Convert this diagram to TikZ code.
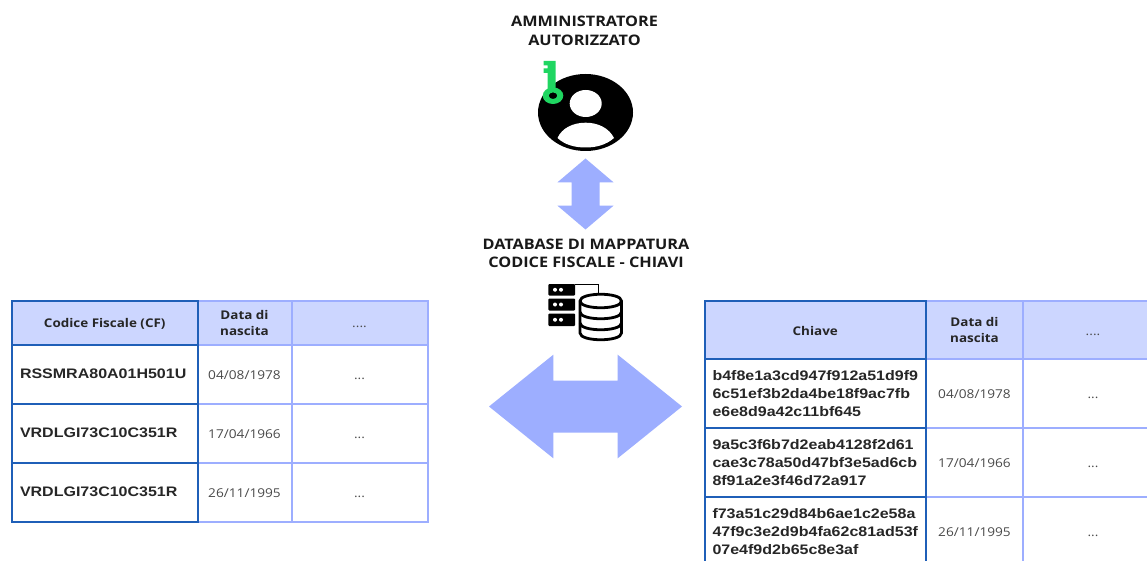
\documentclass[tikz,border=0pt]{standalone}
\usepackage{fontspec}
\setmainfont[FakeStretch=1.12]{Open Sans}
\newfontfamily\cellfont[FakeStretch=1.16]{Liberation Sans}
\usetikzlibrary{positioning, shapes.arrows, shapes.geometric}
\definecolor{headfill}{HTML}{CCD6FF}
\definecolor{lightline}{HTML}{9DAEFF}
\definecolor{darkline}{HTML}{1F5FB8}
\definecolor{keygreen}{HTML}{1FD661}
\definecolor{datetext}{HTML}{4A4A4A}
\begin{document}
\begin{tikzpicture}[
		x=1pt, y=-1pt,
		node distance=0pt,
		cell/.style={
				draw=lightline,
				line width=2pt,
				inner sep=0pt,
				outer sep=0pt,
				align=center,
				text=datetext,
				font=\fontsize{12.2}{15}\selectfont,
			},
		datecell/.style={
				cell,
				text height=12pt,
				text depth=2pt,
			},
		headcell/.style={
				cell,
				fill=headfill,
				text=black!85,
				font=\fontsize{12}{15.5}\selectfont\bfseries,
			},
		dotscell/.style={
				datecell,
				fill=headfill,
			},
		keycell/.style={
				cell,
				draw=darkline,
				text=black!85,
				align=left,
				inner xsep=8pt,
				text width=#1,
				font=\cellfont\fontsize{13.8}{18}\selectfont\bfseries,
			},
		title/.style={
				align=center,
				inner sep=0pt,
				text=black!90,
				font=\fontsize{14.5}{18.5}\selectfont\bfseries,
			},
		blockarrow/.style={
				double arrow,
				fill=lightline,
				double arrow head indent=0pt,
				outer sep=0pt,
			},
	]
	\clip (0,0) rectangle (1147,561);

	% Titoli
	\node[title] (admintitle) at (584.5,31) {AMMINISTRATORE\\AUTORIZZATO};
	\node[title] (dbtitle) at (586,253.5) {DATABASE DI MAPPATURA\\CODICE FISCALE - CHIAVI};

	% Utente con chiave
	\node[fill=black, ellipse, minimum width=95pt, minimum height=77pt, inner sep=0pt] (admin) at (585.5,112.5) {};
	\fill[white] (585.7,103.5) ellipse [x radius=16, y radius=13.5];
	\fill[white] (557.5,138) .. controls (562,128) and (573,122.7) .. (585.7,122.7)
	.. controls (598,122.7) and (609,128) .. (614,138)
	.. controls (606,145) and (596,147.5) .. (585.7,147.5)
	.. controls (575,147.5) and (565,145) .. (557.5,138) -- cycle;
	\fill[keygreen, even odd rule] (553,95.7) ellipse [x radius=10.3, y radius=8.3]
	(553,95.7) ellipse [x radius=4.3, y radius=3.3];
	\fill[keygreen] (543.7,61) -- (555.7,61) -- (555.7,89) -- (547.7,89) -- (547.7,73)
	-- (543.7,73) -- (543.7,68.5) -- (547.7,68.5) -- (547.7,65.5) -- (543.7,65.5) -- cycle;

	% Frecce
	\node[blockarrow, shape border rotate=90, minimum height=71pt, minimum width=56pt,
		inner sep=13.8pt, double arrow tip angle=99.3, double arrow head extend=14.2pt]
	(adminarrow) at (585.5,194) {};
	\node[blockarrow, minimum height=193pt, minimum width=103.3pt,
		inner sep=25.8pt, double arrow tip angle=77.7, double arrow head extend=25.8pt]
	(maparrow) at (585.5,406.5) {};

	% Icona database
	\foreach \y/\h in {284/11.5,298.5/12,313.5/12.5} {
			\fill[black, rounded corners=1pt] (548.3,\y) rectangle (575,\y+\h);
			\fill[white] (555,\y+\h/2) circle (2) (561,\y+\h/2) circle (2);
		}
	\draw[black, line width=1.6pt] (575,284.5) -- (598.5,284.5) -- (598.5,294);
	\begin{scope}[line width=2.8pt, fill=white]
		\filldraw (580,301) -- (580,333) .. controls (580,342) and (621.5,342) .. (621.5,333) -- (621.5,301)
		.. controls (621.5,292) and (580,292) .. (580,301) -- cycle;
		\draw (580,301) .. controls (580,310) and (621.5,310) .. (621.5,301);
		\draw (580,312) .. controls (580,321) and (621.5,321) .. (621.5,312);
		\draw (580,323) .. controls (580,332) and (621.5,332) .. (621.5,323);
	\end{scope}

	% Tabella sinistra
	\node[headcell, minimum width=94pt, minimum height=44.3pt, anchor=north west] (lefthead2) at (197.5,300.7) {Data di\\nascita};
	\node[dotscell, minimum width=136pt, minimum height=44.3pt, right=of lefthead2] (lefthead3) {....};
	\node[datecell, minimum width=94pt, minimum height=59pt, below=of lefthead2] (leftdate1) {04/08/1978};
	\node[datecell, minimum width=136pt, minimum height=59pt, right=of leftdate1] (leftrest1) {...};
	\node[datecell, minimum width=94pt, minimum height=59pt, below=of leftdate1] (leftdate2) {17/04/1966};
	\node[datecell, minimum width=136pt, minimum height=59pt, right=of leftdate2] (leftrest2) {...};
	\node[datecell, minimum width=94pt, minimum height=59pt, below=of leftdate2] (leftdate3) {26/11/1995};
	\node[datecell, minimum width=136pt, minimum height=59pt, right=of leftdate3] (leftrest3) {...};
	\node[headcell, draw=darkline, minimum width=185.5pt, minimum height=44.3pt, text height=12pt, text depth=2pt, left=of lefthead2] (lefthead1) {Codice Fiscale (CF)};
	\foreach \i/\code in {1/RSSMRA80A01H501U,2/VRDLGI73C10C351R,3/VRDLGI73C10C351R} {
			\node[keycell=169.5pt, minimum height=59pt, left=of leftdate\i, text depth=2pt] (leftkey\i) {\code};
		}

	% Tabella destra
	\node[headcell, minimum width=97pt, minimum height=58.6pt, anchor=north west] (righthead2) at (926,300.7) {Data di\\nascita};
	\node[dotscell, minimum width=140pt, minimum height=58.6pt, right=of righthead2] (righthead3) {....};
	\node[datecell, minimum width=97pt, minimum height=68.6pt, below=of righthead2] (rightdate1) {04/08/1978};
	\node[datecell, minimum width=140pt, minimum height=68.6pt, right=of rightdate1] (rightrest1) {...};
	\node[datecell, minimum width=97pt, minimum height=69pt, below=of rightdate1] (rightdate2) {17/04/1966};
	\node[datecell, minimum width=140pt, minimum height=69pt, right=of rightdate2] (rightrest2) {...};
	\node[datecell, minimum width=97pt, minimum height=69pt, below=of rightdate2] (rightdate3) {26/11/1995};
	\node[datecell, minimum width=140pt, minimum height=69pt, right=of rightdate3] (rightrest3) {...};
	\node[headcell, draw=darkline, minimum width=221.5pt, minimum height=58.6pt, text height=12pt, text depth=2pt, left=of righthead2] (righthead1) {Chiave};
	\node[keycell=205.5pt, minimum height=68.6pt, left=of rightdate1] (rightkey1) {b4f8e1a3cd947f912a51d9f9\\6c51ef3b2da4be18f9ac7fb\\e6e8d9a42c11bf645};
	\node[keycell=205.5pt, minimum height=69pt, left=of rightdate2] (rightkey2) {9a5c3f6b7d2eab4128f2d61\\cae3c78a50d47bf3e5ad6cb\\8f91a2e3f46d72a917};
	\node[keycell=205.5pt, minimum height=69pt, left=of rightdate3] (rightkey3) {f73a51c29d84b6ae1c2e58a\\47f9c3e2d9b4fa62c81ad53f\\07e4f9d2b65c8e3af};
\end{tikzpicture}
\end{document}
